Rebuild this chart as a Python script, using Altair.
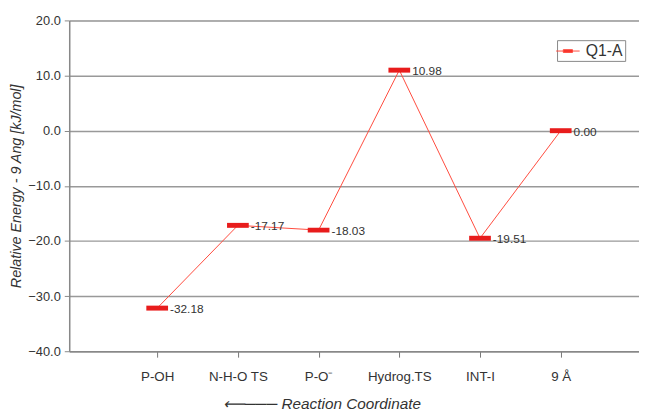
import altair as alt
import pandas as pd
import json

categories = ["P-OH", "N-H-O TS", "P-O\u207b", "Hydrog.TS", "INT-I", "9 \u00c5"]
energies = [-32.18, -17.17, -18.03, 10.98, -19.51, 0.00]
labels = ["-32.18", "-17.17", "-18.03", "10.98", "-19.51", "0.00"]
series = ["Q1-A"] * 6
y_ticks = [-40, -30, -20, -10, 0, 10, 20]

idx = list(range(len(categories)))
df = pd.DataFrame({"idx": idx, "cat": categories, "energy": energies,
                   "label": labels, "series": series})

font = "Liberation Sans"
W = 577
x_scale = alt.Scale(domain=[-1.09, 5.97], nice=False, zero=False)
label_expr = json.dumps(categories) + "[round(datum.value)]"
x_enc = alt.X("idx:Q", scale=x_scale,
              axis=alt.Axis(values=idx, labelExpr=label_expr,
                            title="\u27f5\u2500\u2500\u2500      Reaction Coordinate", titleFontStyle="italic",
                            titleFontWeight="normal", titleFontSize=15.5, titleColor="#333",
                            titleFont=font, titleX=155, titleAlign="left", titleY=53,
                            titleBaseline="middle",
                            labelAngle=0, labelFont=font, labelFontSize=13.5, labelColor="#333",
                            labelPadding=13, tickSize=6, tickColor="#777",
                            domainColor="#888", domainWidth=1.5, grid=False))
y_scale = alt.Scale(domain=[-40, 20], nice=False, zero=False)

line = alt.Chart(df).mark_line(strokeWidth=1).encode(
    x=x_enc,
    y=alt.Y("energy:Q", scale=y_scale,
            axis=alt.Axis(values=y_ticks, format=".1f", title="Relative Energy - 9 Ang [kJ/mol]",
                          titleFontStyle="italic", titleFontWeight="normal", titleFontSize=14.5,
                          titleColor="#333", titleFont=font, titleX=-53, titleBaseline="middle",
                          labelFont=font, labelFontSize=13, labelColor="#333", labelPadding=4,
                          tickSize=5, tickColor="#888", domainColor="#888", domainWidth=1.5,
                          gridColor="#999", gridWidth=1.5)),
    color=alt.Color("series:N", scale=alt.Scale(range=["#ff4a3d"]),
                    legend=alt.Legend(title=None, orient="none", legendX=494, legendY=20,
                                      strokeColor="#888", padding=2, fillColor="white",
                                      symbolType="M-1.4,0H1.4M-0.55,-0.16H0.55V0.16H-0.55Z",
                                      symbolSize=289, symbolStrokeWidth=1,
                                      symbolFillColor="#ee1c1c", symbolStrokeColor="#ff4a3d",
                                      labelFont=font, labelFontSize=16, labelColor="#333",
                                      labelOffset=9, rowPadding=0)),
)

ticks = alt.Chart(df).mark_tick(color="#e81c1c", size=22, thickness=5, opacity=1,
                                orient="horizontal").encode(
    x=alt.X("idx:Q", scale=x_scale),
    y=alt.Y("energy:Q", scale=y_scale),
)

text = alt.Chart(df).mark_text(align="left", baseline="middle", dx=13, dy=1, fontSize=12,
                               font=font, color="#333").encode(
    x=alt.X("idx:Q", scale=x_scale),
    y=alt.Y("energy:Q", scale=y_scale),
    text="label:N",
)

chart = alt.layer(line, ticks, text).properties(
    width=W, height=335,
    autosize=alt.AutoSizeParams(type="none"),
    padding={"left": 62, "top": 10, "right": 0, "bottom": 62},
).configure_view(stroke=None).configure(background="white")

chart.save("out.html", embed_options={"renderer": "svg", "actions": False})
